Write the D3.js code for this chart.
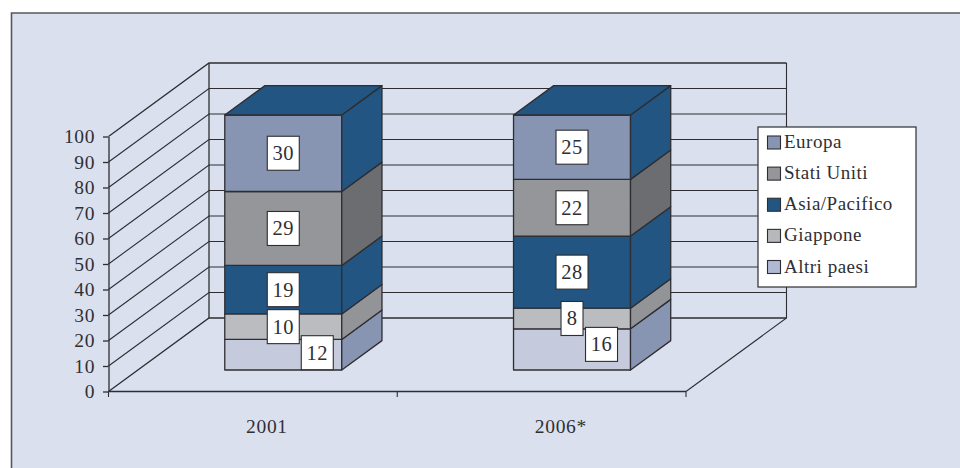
<!DOCTYPE html>
<html lang="it">
<head>
<meta charset="utf-8">
<title>Ripartizione per area geografica</title>
<script src="https://cdn.jsdelivr.net/npm/d3@7"></script>
<style>
  html, body { margin: 0; padding: 0; background: #fff; }
  svg { display: block; }
  text { font-family: "Liberation Serif", serif; fill: #2f2f33; }
</style>
</head>
<body>
<div id="chart"></div>
<script>
// Chart data
const years = ["2001", "2006*"];
const seriesNames = ["Altri paesi", "Giappone", "Asia/Pacifico", "Stati Uniti", "Europa"];
const altriPaesi = [12, 16];
const giappone = [10, 8];
const asiaPacifico = [19, 28];
const statiUniti = [29, 22];
const europa = [30, 25];
const yTicks = [0, 10, 20, 30, 40, 50, 60, 70, 80, 90, 100];

const seriesValues = [altriPaesi, giappone, asiaPacifico, statiUniti, europa];
const rows = years.map((year, i) => {
  const row = { year };
  seriesNames.forEach((name, s) => { row[name] = seriesValues[s][i]; });
  return row;
});

// Face colours for each series
const palette = {
  "Altri paesi":   { front: "#c5cbdc", side: "#8794b2", swatch: "#b0b8d3" },
  "Giappone":      { front: "#bbbcc0", side: "#939498", swatch: "#b7b8bc" },
  "Asia/Pacifico": { front: "#225581", side: "#225581", swatch: "#225581" },
  "Stati Uniti":   { front: "#959699", side: "#6c6d71", swatch: "#959699" },
  "Europa":        { front: "#8794b2", side: "#225581", swatch: "#8794b2" }
};
const topColor = "#225581";
const ink = "#2e2e32";

const width = 960, height = 468;
const svg = d3.select("#chart").append("svg")
  .attr("width", width).attr("height", height);

// Panel: white margin on the top and left only
svg.append("rect").attr("width", width).attr("height", height).attr("fill", "#fff");
svg.append("rect").attr("x", 11.5).attr("y", 13).attr("width", width).attr("height", height)
  .attr("fill", "#dbe0ef");
svg.append("path").attr("d", `M11.5,${height}V13H${width}`)
  .attr("fill", "none").attr("stroke", "#58585c").attr("stroke-width", 1.6);

// Oblique projection: depth 0 is the front plane, depth 1 the back wall
const x = d3.scaleBand().domain(years).range([108.5, 686]);
const y = d3.scaleLinear().domain([0, 100]).range([391.5, 136.5]);
const depth = d3.scaleLinear().domain([0, 1]);
const depthX = depth.copy().range([0, 100.5]);
const depthY = depth.copy().range([0, -73.5]);
const px = (xv, d) => xv + depthX(d);
const py = (v, d) => y(v) + depthY(d);

const line = d3.line();
const grid = svg.append("g").attr("fill", "none").attr("stroke", ink);
const [x0, x1] = x.range();

// Back wall and gridlines
yTicks.forEach(t => {
  const edge = t === 0 || t === 100;
  grid.append("path")
    .attr("d", line([[px(x0, 0), py(t, 0)], [px(x0, 1), py(t, 1)], [px(x1, 1), py(t, 1)]]))
    .attr("stroke-width", edge ? 1.3 : 1.1);
});
grid.append("path")
  .attr("d", line([[px(x0, 1), py(0, 1)], [px(x0, 1), py(100, 1)]])).attr("stroke-width", 1.3);
grid.append("path")
  .attr("d", line([[px(x1, 1), py(100, 1)], [px(x1, 1), py(0, 1)], [px(x1, 0), py(0, 0)]]))
  .attr("stroke-width", 1.1);

// Value and category axes
svg.append("g").attr("transform", `translate(${x0},0)`)
  .call(d3.axisLeft(y).tickValues(yTicks).tickSize(5.5).tickPadding(8).tickSizeOuter(0))
  .call(g => g.selectAll("line,path").attr("stroke", ink).attr("stroke-width", 1.3))
  .call(g => g.selectAll("text").attr("font-size", 19.5).attr("fill", "#2f2f33")
    .style("font-family", '"Liberation Serif", serif').attr("letter-spacing", 0.6));

const baseline = svg.append("g").attr("stroke", ink).attr("fill", "none");
baseline.append("path")
  .attr("d", line([[x0, y(0)], [x1, y(0)]])).attr("stroke-width", 1.6);
[x0, x0 + x.bandwidth(), x1].forEach(tx => {
  baseline.append("path").attr("d", line([[tx, y(0)], [tx, y(0) + 5.5]])).attr("stroke-width", 1.1);
});

svg.append("g").selectAll("text").data(years).join("text")
  .attr("x", d => x(d) + 137.5)
  .attr("y", 433)
  .attr("font-size", 19.5)
  .attr("letter-spacing", 0.7)
  .text(d => d);

// Each column is normalised to 100 so all stacks reach the same height
const stacked = d3.stack().keys(seriesNames).offset(d3.stackOffsetExpand)(rows);
const share = v => v * 100;

const barWidth = 117;
const dFront = 0.2925, dBack = 0.6925;
const barX = year => x(year) + (x.bandwidth() - barWidth) / 2 + 1;

const bars = svg.append("g").attr("stroke", ink).attr("stroke-width", 1.3)
  .attr("stroke-linejoin", "round");

function quad(pts, fill) {
  bars.append("path").attr("d", line(pts) + "Z").attr("fill", fill);
}

stacked.forEach(layer => {
  const c = palette[layer.key];
  layer.forEach(seg => {
    const left = barX(seg.data.year), right = left + barWidth;
    const lo = share(seg[0]), hi = share(seg[1]);
    quad([[px(left, dFront), py(lo, dFront)], [px(right, dFront), py(lo, dFront)],
          [px(right, dFront), py(hi, dFront)], [px(left, dFront), py(hi, dFront)]], c.front);
    quad([[px(right, dFront), py(lo, dFront)], [px(right, dBack), py(lo, dBack)],
          [px(right, dBack), py(hi, dBack)], [px(right, dFront), py(hi, dFront)]], c.side);
  });
});

// Lid of each column
years.forEach(year => {
  const left = barX(year), right = left + barWidth;
  quad([[px(left, dFront), py(100, dFront)], [px(right, dFront), py(100, dFront)],
        [px(right, dBack), py(100, dBack)], [px(left, dBack), py(100, dBack)]], topColor);
});

// Value labels centred on the front faces; the thin lowest band pushes its labels aside
const labelNudge = { "Altri paesi": [[34, -2], [29.5, -5]] };
const labels = svg.append("g");
stacked.forEach(layer => {
  layer.forEach((seg, i) => {
    const value = seg.data[layer.key];
    const left = barX(seg.data.year);
    const mid = share((seg[0] + seg[1]) / 2);
    const nudge = labelNudge[layer.key] ? labelNudge[layer.key][i] : [0, 0];
    const cx = px(left + barWidth / 2, dFront) + nudge[0];
    const cy = py(mid, dFront) + nudge[1];
    const w = String(value).length === 1 ? 22 : 32, h = 34;
    labels.append("rect")
      .attr("x", cx - w / 2).attr("y", cy - h / 2).attr("width", w).attr("height", h)
      .attr("fill", "#fff").attr("stroke", ink).attr("stroke-width", 1.1);
    labels.append("text").attr("x", cx).attr("y", cy + 7)
      .attr("text-anchor", "middle").attr("font-size", 20.5).attr("letter-spacing", 0.4)
      .text(value);
  });
});

// Legend, listed from the top of the stack downwards
const legendRows = seriesNames.slice().reverse();
const legendY = d3.scalePoint().domain(legendRows).range([142.5, 267]);
const legend = svg.append("g");
legend.append("rect").attr("x", 758).attr("y", 127).attr("width", 158).attr("height", 160)
  .attr("fill", "#fff").attr("stroke", ink).attr("stroke-width", 1.2);
legend.selectAll("rect.swatch").data(legendRows).join("rect")
  .attr("class", "swatch")
  .attr("x", 767.5).attr("y", d => legendY(d) - 6.5).attr("width", 13).attr("height", 13)
  .attr("fill", d => palette[d].swatch)
  .attr("stroke", ink).attr("stroke-width", 1.1);
legend.selectAll("text").data(legendRows).join("text")
  .attr("x", 784).attr("y", d => legendY(d) + 5.5)
  .attr("font-size", 19).attr("letter-spacing", 0.5)
  .text(d => d);
</script>
</body>
</html>
